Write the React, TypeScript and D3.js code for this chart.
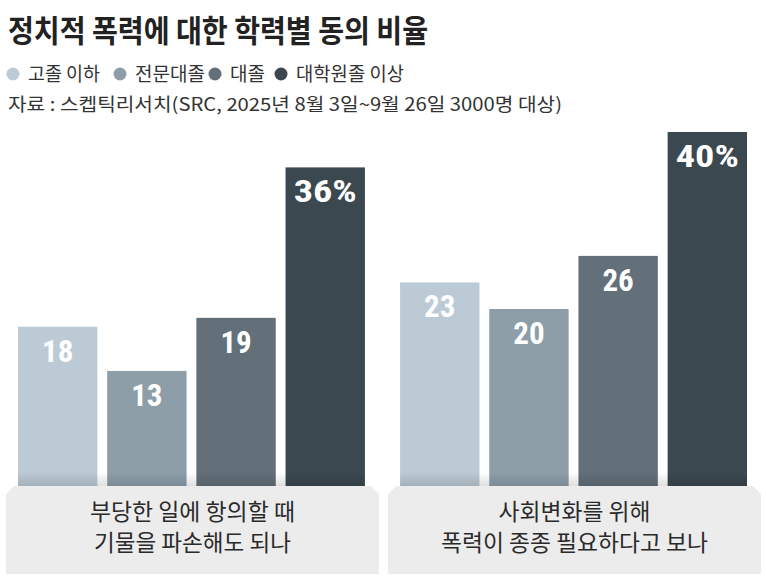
import React, { useEffect, useRef } from 'react';
import * as d3 from 'd3';

const width = 766;
const height = 582;

const levels = ['고졸 이하', '전문대졸', '대졸', '대학원졸 이상'];
const colors = ['#bccad5', '#8d9ea9', '#636f79', '#3b4850'];
const questions = ['q1', 'q2'];
const questionLines = [
  ['부당한 일에 항의할 때', '기물을 파손해도 되나'],
  ['사회변화를 위해', '폭력이 종종 필요하다고 보나'],
];
const q1Values = [18, 13, 19, 36];
const q2Values = [23, 20, 26, 40];
const seriesValues = [q1Values, q2Values];

const korean = '"Noto Sans CJK KR", "Noto Sans", sans-serif';
const narrow = '"Liberation Sans Narrow", "Arial Narrow", "Roboto Condensed", "Liberation Sans", sans-serif';

const baseline = 486;

const x0 = d3.scaleBand<string>()
  .domain(questions)
  .range([18, 747])
  .paddingInner(0.092);

const x1 = d3.scaleBand<string>()
  .domain(levels)
  .range([0, x0.bandwidth()])
  .paddingInner(0.11);

const y = d3.scaleLinear()
  .domain([0, 40])
  .range([baseline, 132]);

export default function App() {
  const ref = useRef<SVGSVGElement>(null);

  useEffect(() => {
    const svg = d3.select(ref.current);
    svg.selectAll('*').remove();

    const defs = svg.append('defs');
    const grad = defs.append('linearGradient')
      .attr('id', 'baseShadow')
      .attr('x1', 0).attr('x2', 0).attr('y1', 0).attr('y2', 1);
    grad.append('stop').attr('offset', '0%').attr('stop-color', '#000').attr('stop-opacity', 0);
    grad.append('stop').attr('offset', '100%').attr('stop-color', '#000').attr('stop-opacity', 0.18);

    // title
    svg.append('text')
      .attr('x', 8)
      .attr('y', 42)
      .attr('font-family', korean)
      .attr('font-weight', 700)
      .attr('font-size', 31)
      .attr('fill', '#222')
      .attr('textLength', 420)
      .attr('lengthAdjust', 'spacingAndGlyphs')
      .text('정치적 폭력에 대한 학력별 동의 비율');

    // legend
    const legendCx = [13, 120, 215, 281];
    const legendW = [72, 70, 35, 108];
    const legend = svg.append('g');
    levels.forEach((lv, i) => {
      legend.append('circle')
        .attr('cx', legendCx[i])
        .attr('cy', 74)
        .attr('r', 6.5)
        .attr('fill', colors[i]);
      legend.append('text')
        .attr('x', legendCx[i] + 15)
        .attr('y', 81)
        .attr('font-family', korean)
        .attr('font-size', 19)
        .attr('fill', '#333')
        .attr('textLength', legendW[i])
        .attr('lengthAdjust', 'spacingAndGlyphs')
        .text(lv);
    });

    svg.append('text')
      .attr('x', 8)
      .attr('y', 111)
      .attr('font-family', korean)
      .attr('font-size', 18)
      .attr('fill', '#333')
      .attr('textLength', 554)
      .attr('lengthAdjust', 'spacingAndGlyphs')
      .text('자료 : 스켑틱리서치(SRC, 2025년 8월 3일~9월 26일 3000명 대상)');

    const lineW = [[205, 197], [152, 267]];

    questions.forEach((q, qi) => {
      const g = svg.append('g').attr('transform', `translate(${x0(q)}, 0)`);
      const vals = seriesValues[qi];

      g.selectAll('rect.bar')
        .data(vals)
        .enter()
        .append('rect')
        .attr('class', 'bar')
        .attr('x', (d, i) => x1(levels[i]))
        .attr('y', d => y(d))
        .attr('width', x1.bandwidth())
        .attr('height', d => baseline - y(d))
        .attr('fill', (d, i) => colors[i]);

      // soft shadow cast by the label box
      g.append('rect')
        .attr('x', 0)
        .attr('y', baseline - 14)
        .attr('width', x0.bandwidth())
        .attr('height', 14)
        .attr('fill', 'url(#baseShadow)')
        .attr('opacity', 0.7);

      g.selectAll('text.val')
        .data(vals)
        .enter()
        .append('text')
        .attr('class', 'val')
        .attr('x', (d, i) => x1(levels[i]) + x1.bandwidth() / 2)
        .attr('y', d => y(d) + 35)
        .attr('text-anchor', 'middle')
        .attr('font-family', narrow)
        .attr('font-weight', 700)
        .attr('font-size', 31)
        .attr('fill', '#fff')
        .each(function (d, i) {
          if (i === 3) {
            d3.select(this)
              .attr('textLength', 63)
              .attr('lengthAdjust', 'spacingAndGlyphs');
          }
        })
        .text((d, i) => (i === 3 ? `${d}%` : `${d}`));

      // label box with chamfered top corners
      const bx0 = -12;
      const bx1 = x0.bandwidth() + 14;
      const by0 = baseline;
      const by1 = 574;
      const c = 8;
      g.append('path')
        .attr('d', `M${bx0},${by0 + c} L${bx0 + c},${by0} L${bx1 - c},${by0} L${bx1},${by0 + c} L${bx1},${by1} L${bx0},${by1} Z`)
        .attr('fill', '#ececec');

      const cx = (bx0 + bx1) / 2;
      questionLines[qi].forEach((ln, li) => {
        g.append('text')
          .attr('x', cx)
          .attr('y', 520 + li * 31)
          .attr('text-anchor', 'middle')
          .attr('font-family', korean)
          .attr('font-size', 23)
          .attr('fill', '#2a2a2a')
          .attr('textLength', lineW[qi][li])
          .attr('lengthAdjust', 'spacingAndGlyphs')
          .text(ln);
      });
    });
  }, []);

  return (
    <svg
      ref={ref}
      width={width}
      height={height}
      style={{ position: 'absolute', left: 0, top: 0, background: '#fff' }}
    />
  );
}
